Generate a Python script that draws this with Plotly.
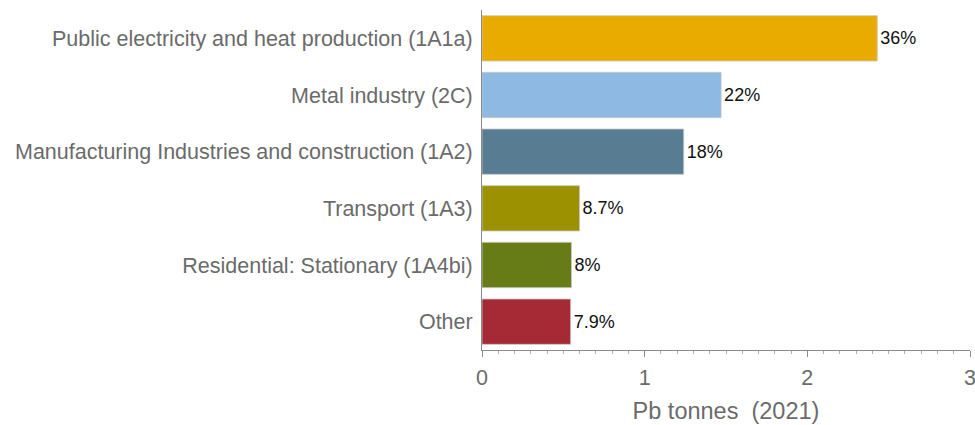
import plotly.graph_objects as go

# Pb emissions by source, 2021
categories = [
    "Public electricity and heat production (1A1a)",
    "Metal industry (2C)",
    "Manufacturing Industries and construction (1A2)",
    "Transport (1A3)",
    "Residential: Stationary (1A4bi)",
    "Other",
]
tonnes = [2.43, 1.47, 1.24, 0.6, 0.55, 0.545]
share_labels = ["36%", "22%", "18%", "8.7%", "8%", "7.9%"]
colors = ["#EAAB00", "#8DB9E2", "#587D92", "#9C9100", "#677C16", "#A52A36"]

fig = go.Figure()

fig.add_trace(go.Bar(
    x=tonnes,
    y=categories,
    orientation="h",
    marker=dict(color=colors, line=dict(color="rgba(200,200,200,0.8)", width=1)),
    text=share_labels,
    textposition="outside",
    textfont=dict(color="#111111", size=18, family="Liberation Sans, Arial"),
    cliponaxis=False,
    hoverinfo="x+y",
))

fig.update_layout(
    width=975,
    height=425,
    margin=dict(l=482, r=5, t=10, b=75),
    plot_bgcolor="white",
    paper_bgcolor="white",
    bargap=0.2,
    showlegend=False,
    font=dict(family="Liberation Sans, Arial", color="#6b6b6b", size=21.5),
)

fig.update_xaxes(
    range=[0, 3],
    dtick=1,
    automargin=False,
    showgrid=False,
    zeroline=False,
    showline=True,
    linecolor="#8a8a8a",
    linewidth=1,
    ticks="outside",
    ticklen=6,
    tickcolor="#8a8a8a",
    ticklabelstandoff=2,
    ticklabeloverflow="allow",
    tickfont=dict(size=21.5, color="#6b6b6b"),
    minor=dict(dtick=0.1, ticks="outside", ticklen=3, tickcolor="#b0b0b0"),
    title=dict(text="Pb tonnes  (2021)", font=dict(size=23.5, color="#6b6b6b"), standoff=13),
)

fig.update_yaxes(
    autorange="reversed",
    automargin=False,
    showgrid=False,
    showline=True,
    linecolor="#8a8a8a",
    linewidth=1,
    ticks="",
    ticklabelstandoff=4,
    tickfont=dict(size=21.5, color="#6b6b6b"),
)

# drop the default body margin so the figure fills the window
fig.write_html(
    "out.html",
    config={"displayModeBar": False},
    post_script="document.body.style.margin = '0';",
)
